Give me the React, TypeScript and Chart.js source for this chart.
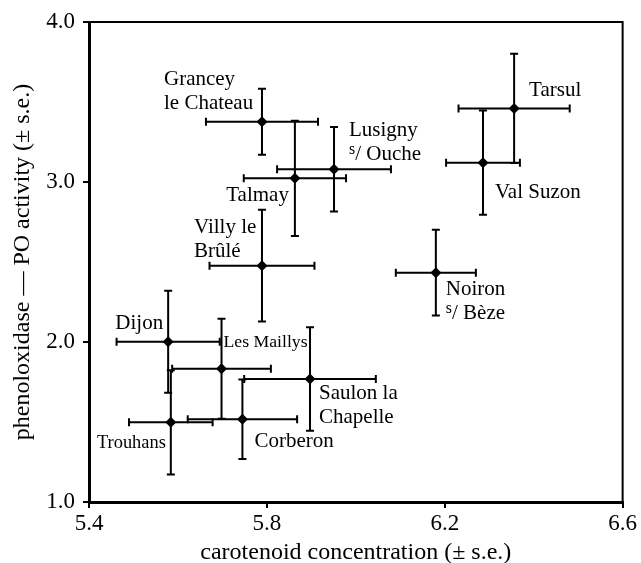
import React, { useEffect, useRef } from "react";
import { Chart, registerables } from "chart.js";

Chart.register(...registerables);

// ---- data ----
const sites = [
  "Grancey le Chateau",
  "Talmay",
  "Lusigny s/ Ouche",
  "Tarsul",
  "Val Suzon",
  "Villy le Brûlé",
  "Noiron s/ Bèze",
  "Dijon",
  "Les Maillys",
  "Saulon la Chapelle",
  "Corberon",
  "Trouhans",
];
const labelLines = [
  ["Grancey", "le Chateau"],
  ["Talmay"],
  ["Lusigny", "s/ Ouche"],
  ["Tarsul"],
  ["Val Suzon"],
  ["Villy le", "Brûlé"],
  ["Noiron", "s/ Bèze"],
  ["Dijon"],
  ["Les Maillys"],
  ["Saulon la", "Chapelle"],
  ["Corberon"],
  ["Trouhans"],
];
const carotenoid = [5.789, 5.863, 5.951, 6.356, 6.286, 5.789, 6.18, 5.578, 5.698, 5.897, 5.745, 5.584];
const carotenoidSE = [0.126, 0.115, 0.128, 0.125, 0.083, 0.118, 0.09, 0.116, 0.111, 0.148, 0.123, 0.094];
const poActivity = [3.377, 3.023, 3.079, 3.46, 3.121, 2.477, 2.433, 2.002, 1.833, 1.769, 1.517, 1.498];
const poActivitySE = [0.206, 0.36, 0.264, 0.342, 0.326, 0.349, 0.268, 0.319, 0.313, 0.323, 0.248, 0.326];
const xTicks = [5.4, 5.8, 6.2, 6.6];
const yTicks = [1.0, 2.0, 3.0, 4.0];
const xTitle = "carotenoid concentration (± s.e.)";
const yTitle = "phenoloxidase — PO activity (± s.e.)";

// ---- label layout (pixel offsets from each point; styling only) ----
const labelLayout: { dx: number; dy: number; align: CanvasTextAlign; size: number }[] = [
  { dx: -98, dy: -42, align: "left", size: 21 },
  { dx: -6, dy: 17, align: "right", size: 21 },
  { dx: 15, dy: -39, align: "left", size: 21 },
  { dx: 15, dy: -18, align: "left", size: 21 },
  { dx: 12, dy: 30, align: "left", size: 21 },
  { dx: -68, dy: -38, align: "left", size: 21 },
  { dx: 10, dy: 17, align: "left", size: 21 },
  { dx: -5, dy: -18, align: "right", size: 21 },
  { dx: 2, dy: -26, align: "left", size: 17.7 },
  { dx: 9, dy: 15, align: "left", size: 21 },
  { dx: 12, dy: 22, align: "left", size: 21 },
  { dx: -5, dy: 21, align: "right", size: 18.4 },
];
const LINE_GAP = 24;
const FONT = "'Liberation Serif', 'Times New Roman', serif";

const errorBarsPlugin = {
  id: "errorBars",
  beforeDatasetsDraw(chart: any) {
    const { ctx, scales } = chart;
    const xs = scales.x;
    const ys = scales.y;
    const cap = 4;
    ctx.save();
    ctx.strokeStyle = "#000";
    ctx.lineWidth = 2;
    ctx.lineCap = "butt";
    carotenoid.forEach((xv, i) => {
      const yv = poActivity[i];
      const px = xs.getPixelForValue(xv);
      const py = ys.getPixelForValue(yv);
      const x0 = xs.getPixelForValue(xv - carotenoidSE[i]);
      const x1 = xs.getPixelForValue(xv + carotenoidSE[i]);
      const y0 = ys.getPixelForValue(yv - poActivitySE[i]);
      const y1 = ys.getPixelForValue(yv + poActivitySE[i]);
      ctx.beginPath();
      ctx.moveTo(x0, py);
      ctx.lineTo(x1, py);
      ctx.moveTo(x0, py - cap);
      ctx.lineTo(x0, py + cap);
      ctx.moveTo(x1, py - cap);
      ctx.lineTo(x1, py + cap);
      ctx.moveTo(px, y0);
      ctx.lineTo(px, y1);
      ctx.moveTo(px - cap, y0);
      ctx.lineTo(px + cap, y0);
      ctx.moveTo(px - cap, y1);
      ctx.lineTo(px + cap, y1);
      ctx.stroke();
    });
    ctx.restore();
  },
  afterDraw(chart: any) {
    const { ctx, chartArea, scales } = chart;
    ctx.save();
    // top and right frame
    ctx.strokeStyle = "#000";
    ctx.lineWidth = 2;
    ctx.beginPath();
    ctx.moveTo(chartArea.left, chartArea.top);
    ctx.lineTo(chartArea.right, chartArea.top);
    ctx.lineTo(chartArea.right, chartArea.bottom);
    ctx.stroke();
    // labels
    ctx.fillStyle = "#000";
    ctx.textBaseline = "middle";
    labelLines.forEach((lines, i) => {
      const px = scales.x.getPixelForValue(carotenoid[i]);
      const py = scales.y.getPixelForValue(poActivity[i]);
      const L = labelLayout[i];
      lines.forEach((line, j) => {
        const x = px + L.dx;
        const y = py + L.dy + j * LINE_GAP;
        ctx.textAlign = L.align;
        if (line.startsWith("s/ ")) {
          const rest = line.slice(1);
          ctx.font = `${L.size * 0.75}px ${FONT}`;
          const sw = ctx.measureText("s").width;
          ctx.textAlign = "left";
          ctx.fillText("s", x, y - 5);
          ctx.font = `${L.size}px ${FONT}`;
          ctx.fillText(rest, x + sw, y);
        } else {
          ctx.font = `${L.size}px ${FONT}`;
          ctx.fillText(line, x, y);
        }
      });
    });
    ctx.restore();
  },
};

export default function App() {
  const ref = useRef<HTMLCanvasElement | null>(null);
  useEffect(() => {
    document.body.style.margin = "0";
    const canvas = ref.current;
    if (!canvas) return;
    const chart = new Chart(canvas, {
      type: "scatter",
      data: {
        labels: sites,
        datasets: [
          {
            label: "sites",
            data: carotenoid.map((x, i) => ({ x, y: poActivity[i] })),
            pointStyle: "rectRot",
            pointRadius: 5.5,
            pointHoverRadius: 5.5,
            backgroundColor: "#000",
            borderColor: "#000",
            borderWidth: 0,
          },
        ],
      },
      options: {
        animation: false,
        responsive: false,
        devicePixelRatio: 1,
        layout: { padding: { top: 22, right: 18, left: 0, bottom: 0 } },
        plugins: { legend: { display: false }, tooltip: { enabled: false } },
        scales: {
          x: {
            type: "linear",
            min: 5.4,
            max: 6.6,
            afterBuildTicks: (s: any) => {
              s.ticks = xTicks.map((v) => ({ value: v }));
            },
            afterFit: (s: any) => {
              s.height = 61;
            },
            grid: { drawOnChartArea: false, drawTicks: true, tickLength: 6, color: "#000", lineWidth: 2 },
            border: { display: true, color: "#000", width: 3 },
            ticks: {
              color: "#000",
              font: { family: FONT, size: 23, lineHeight: 1 },
              padding: 4,
              maxRotation: 0,
              callback: (v: any) => Number(v).toFixed(1),
            },
            title: {
              display: true,
              text: xTitle,
              color: "#000",
              font: { family: FONT, size: 24, lineHeight: 1 },
              padding: { top: 0, bottom: -2 },
            },
          },
          y: {
            type: "linear",
            min: 1,
            max: 4,
            afterBuildTicks: (s: any) => {
              s.ticks = yTicks.map((v) => ({ value: v }));
            },
            afterFit: (s: any) => {
              s.width = 89;
            },
            grid: { drawOnChartArea: false, drawTicks: true, tickLength: 6, color: "#000", lineWidth: 2 },
            border: { display: true, color: "#000", width: 3 },
            ticks: {
              color: "#000",
              font: { family: FONT, size: 23, lineHeight: 1 },
              padding: 8,
              callback: (v: any) => Number(v).toFixed(1),
            },
            title: {
              display: true,
              text: yTitle,
              color: "#000",
              font: { family: FONT, size: 24, lineHeight: 1 },
              padding: { top: 11, bottom: 0 },
            },
          },
        },
      },
      plugins: [errorBarsPlugin],
    });
    return () => chart.destroy();
  }, []);
  return (
    <div style={{ width: 641, height: 563 }}>
      <canvas ref={ref} width={641} height={563} />
    </div>
  );
}
